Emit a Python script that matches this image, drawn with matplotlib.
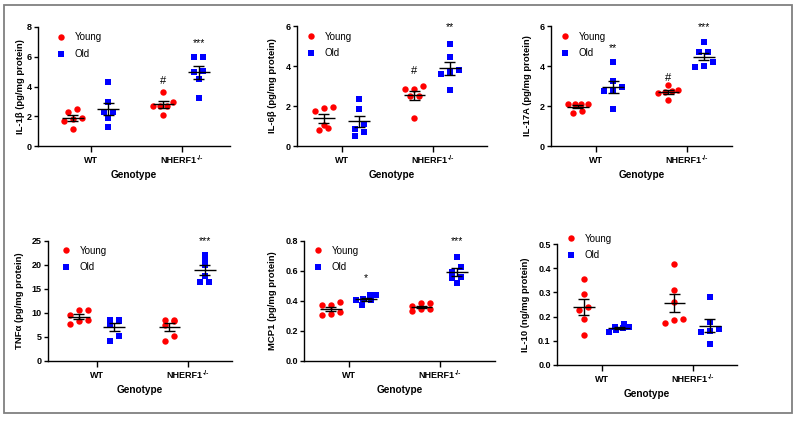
import numpy as np
import matplotlib
matplotlib.use("Agg")
import matplotlib.pyplot as plt
from matplotlib.lines import Line2D
from matplotlib.patches import Rectangle
from matplotlib.transforms import ScaledTranslation

plt.rcParams['font.family'] = ['Liberation Sans', 'DejaVu Sans']

# categories
genotypes = ['WT', 'NHERF1']
genotype_sup = ['', '-/-']
groups = ['Young', 'Old']

# measured values, [WT, NHERF1-/-] per age group
il1b_young = [[2.31, 2.51, 1.91, 1.82, 1.66, 1.14], [3.65, 2.98, 2.69, 2.69, 2.69, 2.06]]
il1b_old = [[4.28, 2.96, 2.26, 2.26, 1.86, 1.26], [5.96, 5.96, 4.96, 5.07, 4.51, 3.21]]

il6_young = [[1.92, 1.97, 1.75, 1.03, 0.78, 0.90], [3.02, 2.87, 2.87, 2.52, 2.52, 1.40]]
il6_old = [[2.33, 1.83, 0.87, 1.10, 0.72, 0.52], [5.10, 4.45, 3.68, 3.80, 3.58, 2.78]]

il17_young = [[2.10, 2.10, 2.08, 2.10, 1.65, 1.75], [3.03, 2.82, 2.77, 2.65, 2.72, 2.28]]
il17_old = [[4.20, 3.25, 2.95, 2.73, 2.73, 1.83], [5.18, 4.72, 4.72, 4.22, 3.97, 4.02]]

tnf_young = [[10.6, 10.6, 9.6, 8.6, 7.8, 8.35], [8.6, 8.6, 8.3, 7.5, 5.2, 4.2]]
tnf_old = [[8.6, 8.6, 8.3, 7.5, 5.2, 4.2], [22.1, 21.0, 19.9, 17.7, 16.5, 16.5]]

mcp1_young = [[0.396, 0.371, 0.371, 0.327, 0.307, 0.311], [0.369, 0.384, 0.384, 0.331, 0.347, 0.347]]
mcp1_old = [[0.438, 0.438, 0.411, 0.404, 0.409, 0.371], [0.691, 0.629, 0.562, 0.556, 0.522, 0.596]]

il10_young = [[0.357, 0.295, 0.240, 0.229, 0.189, 0.124], [0.416, 0.309, 0.260, 0.175, 0.189, 0.185]]
il10_old = [[0.146, 0.168, 0.155, 0.152, 0.135, 0.158], [0.281, 0.179, 0.149, 0.142, 0.135, 0.085]]

ylabels = ['IL-1β (pg/mg protein)', 'IL-6β (pg/mg protein)', 'IL-17A (pg/mg protein)',
           'TNFα (pg/mg protein)', 'MCP1 (pg/mg protein)', 'IL-10 (ng/mg protein)']
ymaxes = [8, 6, 6, 25, 0.8, 0.5]
ysteps = [2, 2, 2, 5, 0.2, 0.1]
young_sets = [il1b_young, il6_young, il17_young, tnf_young, mcp1_young, il10_young]
old_sets = [il1b_old, il6_old, il17_old, tnf_old, mcp1_old, il10_old]

# significance marks: (text, group index, genotype index, y)
marks = [
    [('#', 0, 1, 4.37), ('***', 1, 1, 6.95)],
    [('#', 0, 1, 3.77), ('**', 1, 1, 5.93)],
    [('**', 1, 0, 4.92), ('#', 0, 1, 3.42), ('***', 1, 1, 5.93)],
    [('***', 1, 1, 25.0)],
    [('*', 1, 0, 0.55), ('***', 1, 1, 0.80)],
    [],
]

# ---- layout (pixels in the 798x422 figure) ----
W, H = 798, 422
boxes = [(38, 27, 230, 146), (297, 26, 487, 146), (551, 26, 732, 146),
         (48, 241, 232, 361), (304, 241, 495, 361), (557, 244, 737, 365)]
wt_px = [91, 342, 596, 97, 349, 602]
cat_px = 90.5
ylab_off = [-13, -20, -19, -24, -27, -27]
legend_px = [(61, 38), (311, 37), (565, 37), (66, 251), (318, 251), (571, 239)]

RED = '#ff0000'
BLUE = '#0000ff'
MS_O, MS_S = 4.6, 4.1


def swarm(vals, px_per_unit, thresh=5.0, step=9.0, maxw=20.0):
    # simple beeswarm: points closer than thresh px vertically share a row
    vals = np.asarray(vals, float)
    order = np.argsort(vals)
    offs = np.zeros(len(vals))
    rows = []
    for i in order:
        if rows and (vals[i] - vals[rows[-1][0]]) * px_per_unit < thresh:
            rows[-1].append(i)
        else:
            rows.append([i])
    for r in rows:
        n = len(r)
        st = step if n < 2 else min(step, maxw / (n - 1))
        for j, i in enumerate(r):
            offs[i] = (j - (n - 1) / 2) * st
    return offs


fig = plt.figure(figsize=(W / 100, H / 100), dpi=100)
fig.patches.append(Rectangle((4 / W, 1 - 413 / H), 788 / W, 408 / H, transform=fig.transFigure,
                             fill=False, edgecolor='#808080', lw=1.3))

for p in range(6):
    x0, y0, x1, y1 = boxes[p]
    ax = fig.add_axes([x0 / W, 1 - y1 / H, (x1 - x0) / W, (y1 - y0) / H])
    ax.set_xlim((x0 - wt_px[p]) / cat_px, 1 + (x1 - wt_px[p] - cat_px) / cat_px)
    ax.set_ylim(0, ymaxes[p])
    ppu = (y1 - y0) / ymaxes[p]

    for gi, (data, color, mk, ms, dx) in enumerate([(young_sets[p], RED, 'o', MS_O, -0.2),
                                                    (old_sets[p], BLUE, 's', MS_S, 0.19)]):
        for k in range(2):
            v = np.array(data[k])
            xs = k + dx + swarm(v, ppu) / cat_px
            ax.plot(xs, v, ls='none', marker=mk, ms=ms, color=color, mec=color, mew=0, zorder=3)
            m = v.mean()
            se = v.std(ddof=1) / np.sqrt(len(v))
            c = k + dx
            ax.hlines(m, c - 0.12, c + 0.12, color='black', lw=1.0, zorder=4)
            ax.vlines(c, m - se, m + se, color='black', lw=1.0, zorder=4)
            ax.hlines([m - se, m + se], c - 0.06, c + 0.06, color='black', lw=1.0, zorder=4)

    for txt, gi, k, yv in marks[p]:
        c = k + (-0.2 if gi == 0 else 0.19)
        if txt == '#':
            ax.text(c, yv, txt, ha='center', va='center', fontsize=8)
        else:
            ax.text(c, yv, txt, ha='center', va='center', fontsize=7.5)

    for s in ['top', 'right']:
        ax.spines[s].set_visible(False)
    for s in ['left', 'bottom']:
        ax.spines[s].set_linewidth(1.0)
    ax.set_xticks([0, 1])
    ax.set_xticklabels(genotypes, fontweight='bold', fontsize=6.5)
    yt = np.arange(0, ymaxes[p] + ysteps[p] / 2, ysteps[p])
    ax.set_yticks(yt)
    if ysteps[p] < 1:
        ax.set_yticklabels(['%.1f' % t for t in yt])
    for lab in ax.get_yticklabels():
        lab.set_fontweight('bold')
        lab.set_fontsize(6.5)
    ax.tick_params(axis='y', length=3, width=1.0, pad=1.5)
    ax.tick_params(axis='x', length=4, width=1.0, pad=3)
    # superscript after the genotype name; nudge that label left so the whole thing is centred
    for lab, sup in zip(ax.get_xticklabels(), genotype_sup):
        if sup:
            lab.set_transform(lab.get_transform() + ScaledTranslation(-2.5 / 72, 0, fig.dpi_scale_trans))
            ax.annotate(sup, xy=(1, 1), xycoords=lab, xytext=(0.6, 0.5), textcoords='offset points',
                        ha='left', va='top', fontsize=4.8, fontweight='bold')
    ax.set_xlabel('Genotype', fontweight='bold', fontsize=7.2, labelpad=4)
    ax.set_ylabel(ylabels[p], fontweight='bold', fontsize=6.8)
    ax.yaxis.set_label_coords(ylab_off[p] / (x1 - x0), 0.5)

    handles = [Line2D([], [], ls='none', marker='o', ms=MS_O, mew=0, color=RED),
               Line2D([], [], ls='none', marker='s', ms=MS_S, mew=0, color=BLUE)]
    lx, ly = legend_px[p]
    ax.legend(handles, groups, loc='upper left', bbox_to_anchor=((lx - 4.5) / W, 1 - (ly - 5.5) / H),
              bbox_transform=fig.transFigure, frameon=False, borderpad=0, borderaxespad=0,
              handlelength=1.0, handletextpad=0.9, labelspacing=0.7, fontsize=7)

fig.savefig('out.png', dpi=100)
